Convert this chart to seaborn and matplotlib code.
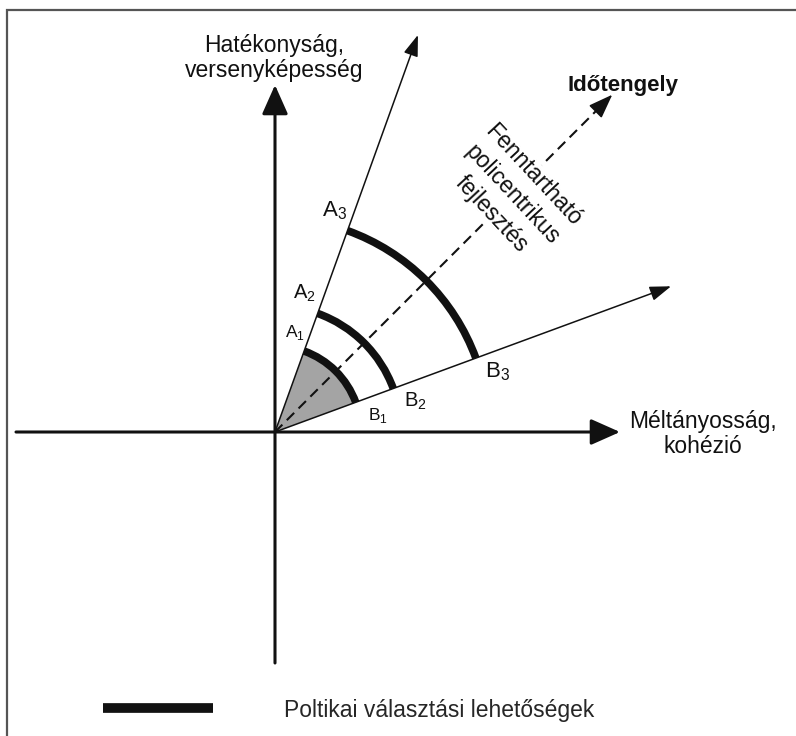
import numpy as np
import matplotlib.pyplot as plt
import seaborn as sns
from matplotlib.patches import Wedge, Arc
from matplotlib.lines import Line2D

# texts
y_axis_label = "Hatékonyság,\nversenyképesség"
x_axis_label = "Méltányosság,\nkohézió"
time_label = "Időtengely"
path_label = "Fenntartható\npolicentrikus\nfejlesztés"
legend_label = "Poltikai választási lehetőségek"

# geometry of the concept diagram (origin = 0,0)
x_axis_range = [-259, 345]
y_axis_range = [-231, 347]
ray_angle_a = 70.2
ray_angle_b = 20.2
ray_length = 422
time_angle = 45.0
time_length = 477

# policy arcs and their labels
arc_radii = [86, 126, 214]
a_labels = [r"$\mathrm{A}_{1}$", r"$\mathrm{A}_{2}$", r"$\mathrm{A}_{3}$"]
b_labels = [r"$\mathrm{B}_{1}$", r"$\mathrm{B}_{2}$", r"$\mathrm{B}_{3}$"]
label_sizes = [12.5, 14.5, 16]

sns.set_theme(style="white")
plt.rcParams["font.family"] = ["Liberation Sans", "DejaVu Sans"]
plt.rcParams["mathtext.fontset"] = "custom"
plt.rcParams["mathtext.rm"] = "Liberation Sans"

fig = plt.figure(figsize=(7.96, 7.36), dpi=100)
ax = fig.add_axes([0, 0, 1, 1])
ax.set_xlim(-275, 521)
ax.set_ylim(-304, 432)
ax.set_aspect("equal")
ax.axis("off")

ink = "#111111"
fs = 16.5


def polar(r, deg):
    t = np.deg2rad(deg)
    return r * np.cos(t), r * np.sin(t)


def arrow(p0, p1, lw, hl, hw, z=3):
    ax.annotate("", xy=p1, xytext=p0,
                arrowprops=dict(arrowstyle=f"-|>,head_length={hl},head_width={hw}",
                                color=ink, lw=lw, shrinkA=0, shrinkB=0,
                                mutation_scale=10), zorder=z)


# frame (only top and left edges visible)
ax.plot([-268, -268, 521], [-304, 422, 422], color="#555555", lw=1.6,
        solid_joinstyle="miter", clip_on=False)

# shaded first option
ax.add_patch(Wedge((0, 0), arc_radii[0], ray_angle_b, ray_angle_a,
                   facecolor="#a4a4a4", edgecolor="none", zorder=1))

# main axes
arrow((x_axis_range[0], 0), (x_axis_range[1], 0), 2.2, 1.8, 0.8)
arrow((0, y_axis_range[0]), (0, y_axis_range[1]), 2.2, 1.8, 0.8)

# rays A and B
arrow((0, 0), polar(ray_length, ray_angle_a), 1.1, 1.3, 0.45)
arrow((0, 0), polar(ray_length, ray_angle_b), 1.1, 1.3, 0.45)

# dashed time axis
tx, ty = polar(time_length - 14, time_angle)
ax.plot([0, tx], [0, ty], color=ink, lw=1.5, ls=(0, (5, 3)), zorder=2)
arrow(polar(time_length - 16, time_angle), polar(time_length, time_angle), 1.2, 1.5, 0.55)

# policy arcs
for r in arc_radii:
    ax.add_patch(Arc((0, 0), 2 * r, 2 * r, theta1=ray_angle_b, theta2=ray_angle_a,
                     lw=5.5, color=ink, capstyle="butt", zorder=4))

# A / B labels
ua = np.array(polar(1, ray_angle_a))
na = np.array([-ua[1], ua[0]])
ub = np.array(polar(1, ray_angle_b))
nb = np.array([ub[1], -ub[0]])
for r, la, lb, s in zip(arc_radii, a_labels, b_labels, label_sizes):
    off = 15 if s < 13 else 19
    pa = ua * (r + 14) + na * off
    pb = ub * (r + 16) + nb * 20
    ax.text(pa[0], pa[1], la, fontsize=s, color=ink, ha="center", va="center", zorder=5)
    ax.text(pb[0], pb[1], lb, fontsize=s, color=ink, ha="center", va="center", zorder=5)

# axis labels
ax.text(-1, y_axis_range[1] + 27, y_axis_label, fontsize=fs, color=ink,
        ha="center", va="center", linespacing=1.15)
ax.text(x_axis_range[1] + 83, -2, x_axis_label, fontsize=fs, color=ink,
        ha="center", va="center", linespacing=1.15)
tx, ty = polar(time_length, time_angle)
ax.text(tx + 11, ty + 9, time_label, fontsize=fs - 0.5, fontweight="bold",
        color=ink, ha="center", va="center")
px, py = polar(336, time_angle)
ax.text(px, py, path_label, fontsize=fs, color=ink, rotation=-47,
        rotation_mode="anchor", ha="center", va="center", multialignment="center",
        linespacing=1.3, zorder=3,
        bbox=dict(facecolor="white", edgecolor="none", pad=1))

# legend
handle = Line2D([], [], color=ink, lw=7, solid_capstyle="butt")
ax.legend([handle], [legend_label], loc="center left", bbox_to_anchor=(-172, -278),
          bbox_transform=ax.transData, frameon=False, fontsize=fs,
          handlelength=4.8, handletextpad=3.1, borderpad=0, borderaxespad=0)

fig.savefig("out.png", dpi=100)
